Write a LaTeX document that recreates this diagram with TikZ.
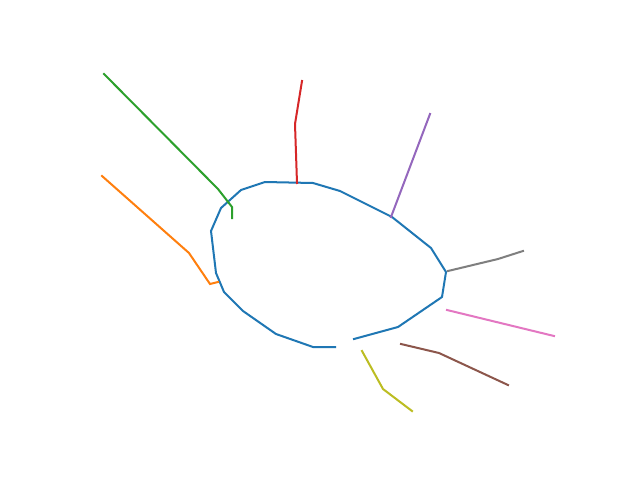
\documentclass[tikz,border=0pt]{standalone}
\definecolor{tabblue}{HTML}{1F77B4}
\definecolor{taborange}{HTML}{FF7F0E}
\definecolor{tabgreen}{HTML}{2CA02C}
\definecolor{tabred}{HTML}{D62728}
\definecolor{tabpurple}{HTML}{9467BD}
\definecolor{tabbrown}{HTML}{8C564B}
\definecolor{tabpink}{HTML}{E377C2}
\definecolor{tabgray}{HTML}{7F7F7F}
\definecolor{tabolive}{HTML}{BCBD22}
\begin{document}
\begin{tikzpicture}[x=1pt,y=-1pt,
  trace/.style={line width=2pt,line join=miter,line cap=rect}]
\useasboundingbox[fill=white] (0,0) rectangle (640,480);
% blue loop
\draw[trace,tabblue] (335,347) -- (313,347) -- (276,334) -- (243,311) -- (224,292) -- (216,273) -- (211,231) -- (221,208) -- (241,190) -- (265,182) -- (313,183) -- (340,191) -- (392,217) -- (431,248) -- (446,272) -- (442,297) -- (398,327) -- (354,339);
% green
\draw[trace,tabgreen] (104,74) -- (218,189) -- (232,207) -- (232,218);
% orange
\draw[trace,taborange] (102,176) -- (189,253) -- (210,284) -- (218,282);
% red
\draw[trace,tabred] (302,81) -- (295,124) -- (297,183);
% purple
\draw[trace,tabpurple] (430,114) -- (391,217);
% gray
\draw[trace,tabgray] (448,271) -- (498,259) -- (523,251);
% pink
\draw[trace,tabpink] (447,310) -- (554,336);
% brown
\draw[trace,tabbrown] (401,344) -- (439,353) -- (508,385);
% olive
\draw[trace,tabolive] (362,351) -- (383,389) -- (412,411);
\end{tikzpicture}
\end{document}
